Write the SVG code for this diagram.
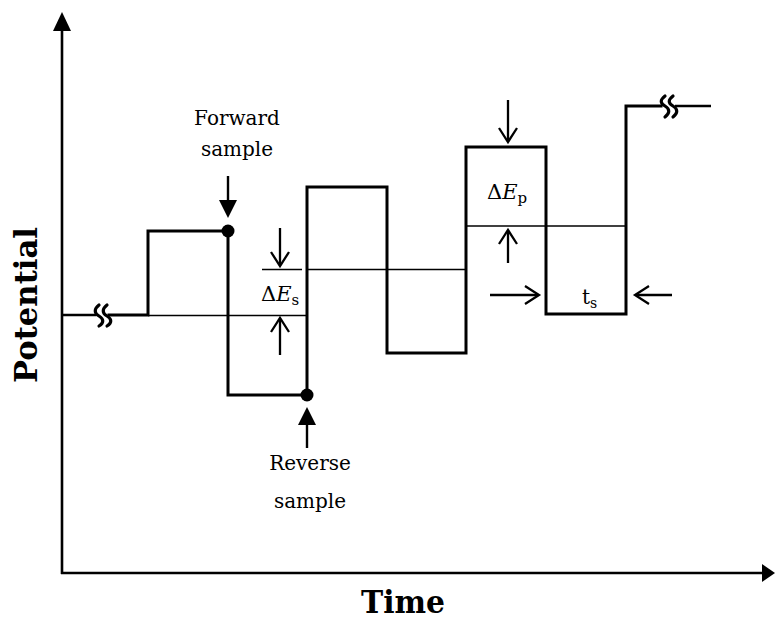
<svg xmlns="http://www.w3.org/2000/svg" width="775" height="621" viewBox="0 0 775 621">
<style>
.thick{fill:none;stroke:#000;stroke-width:3;stroke-linejoin:miter;stroke-linecap:square}
.thin{fill:none;stroke:#000;stroke-width:1.3}
.axis{fill:none;stroke:#000;stroke-width:2.6}
.open{fill:none;stroke:#000;stroke-width:2.3}
.lbl{font-family:"DejaVu Serif","Liberation Serif",serif;font-size:20px;fill:#000}
.math{font-family:"DejaVu Serif","Liberation Serif",serif;font-size:21px;fill:#000}
.big{font-family:"DejaVu Serif","Liberation Serif",serif;font-size:32px;font-weight:bold;fill:#000}
.sq{fill:none;stroke:#000;stroke-width:3.2;stroke-linecap:round}
</style>
<g id="axes">
<line class="axis" x1="62" y1="574" x2="62" y2="28"/>
<path d="M53,31 L62,12 L71,31 Z" fill="#000"/>
<line class="axis" x1="61" y1="573" x2="764" y2="573"/>
<path d="M762,564 L775,573 L762,582 Z" fill="#000"/>
</g>
<g id="baselines">
<line class="thin" x1="148" y1="315.5" x2="307" y2="315.5"/>
<line class="thin" x1="262" y1="269.5" x2="302" y2="269.5"/>
<line class="thin" x1="307" y1="269.5" x2="466" y2="269.5"/>
<line class="thin" x1="466" y1="226" x2="626" y2="226"/>
</g>
<g id="waveform">
<line x1="62" y1="315" x2="96" y2="315" stroke="#000" stroke-width="2.4"/>
<path class="thick" d="M109,315 L148,315 L148,231 L228,231 L228,395 L307,395 L307,187 L387,187 L387,353 L466,353 L466,147 L546,147 L546,314 L626,314 L626,106 L661,106"/>
<line x1="675" y1="106" x2="711" y2="106" stroke="#000" stroke-width="2.6"/>
<path class="sq" d="M99,305 C94,309 94,313 99,316 C104,319 104,323 99,326"/>
<path class="sq" d="M107,305 C102,309 102,313 107,316 C112,319 112,323 107,326"/>
<path class="sq" d="M665,96 C660,100 660,103 665,106 C670,109 670,113 665,117"/>
<path class="sq" d="M673,96 C668,100 668,103 673,106 C678,109 678,113 673,117"/>
</g>
<g id="forward-sample">
<text class="lbl" x="237" y="125" text-anchor="middle">Forward</text>
<text class="lbl" x="237" y="156" text-anchor="middle">sample</text>
<line x1="228" y1="176" x2="228" y2="202" stroke="#000" stroke-width="2.4"/>
<path d="M219,200 L228,218 L237,200 Z" fill="#000"/>
<circle cx="228" cy="231" r="6.5" fill="#000"/>
</g>
<g id="reverse-sample">
<circle cx="307" cy="395" r="6.5" fill="#000"/>
<line x1="307" y1="448" x2="307" y2="423" stroke="#000" stroke-width="2.4"/>
<path d="M298,425 L307,407 L316,425 Z" fill="#000"/>
<text class="lbl" x="310" y="470" text-anchor="middle">Reverse</text>
<text class="lbl" x="310" y="508" text-anchor="middle">sample</text>
</g>
<g id="delta-es">
<line class="open" x1="280" y1="228" x2="280" y2="265"/>
<path class="open" d="M271,252 L280,266 L289,252"/>
<line class="open" x1="280" y1="355" x2="280" y2="320"/>
<path class="open" d="M271,332 L280,318 L289,332"/>
<text class="math" x="261" y="301">Δ<tspan font-style="italic">E</tspan><tspan font-size="15" dy="4">s</tspan></text>
</g>
<g id="delta-ep">
<line class="open" x1="508" y1="100" x2="508" y2="141"/>
<path class="open" d="M499,128 L508,142 L517,128"/>
<line class="open" x1="508" y1="263" x2="508" y2="232"/>
<path class="open" d="M499,244 L508,230 L517,244"/>
<text class="math" x="487" y="199">Δ<tspan font-style="italic">E</tspan><tspan font-size="15" dy="4">p</tspan></text>
</g>
<g id="ts">
<line class="open" x1="490" y1="295" x2="538" y2="295"/>
<path class="open" d="M525,286 L539,295 L525,304"/>
<line class="open" x1="672" y1="295" x2="636" y2="295"/>
<path class="open" d="M649,286 L635,295 L649,304"/>
<text class="lbl" x="582" y="304">t<tspan font-size="14" dy="4">s</tspan></text>
</g>
<g id="axis-labels">
<text class="big" transform="translate(37,305) rotate(-90)" text-anchor="middle" textLength="156" lengthAdjust="spacingAndGlyphs">Potential</text>
<text class="big" x="403" y="613" text-anchor="middle" textLength="84" lengthAdjust="spacingAndGlyphs">Time</text>
</g>
</svg>
